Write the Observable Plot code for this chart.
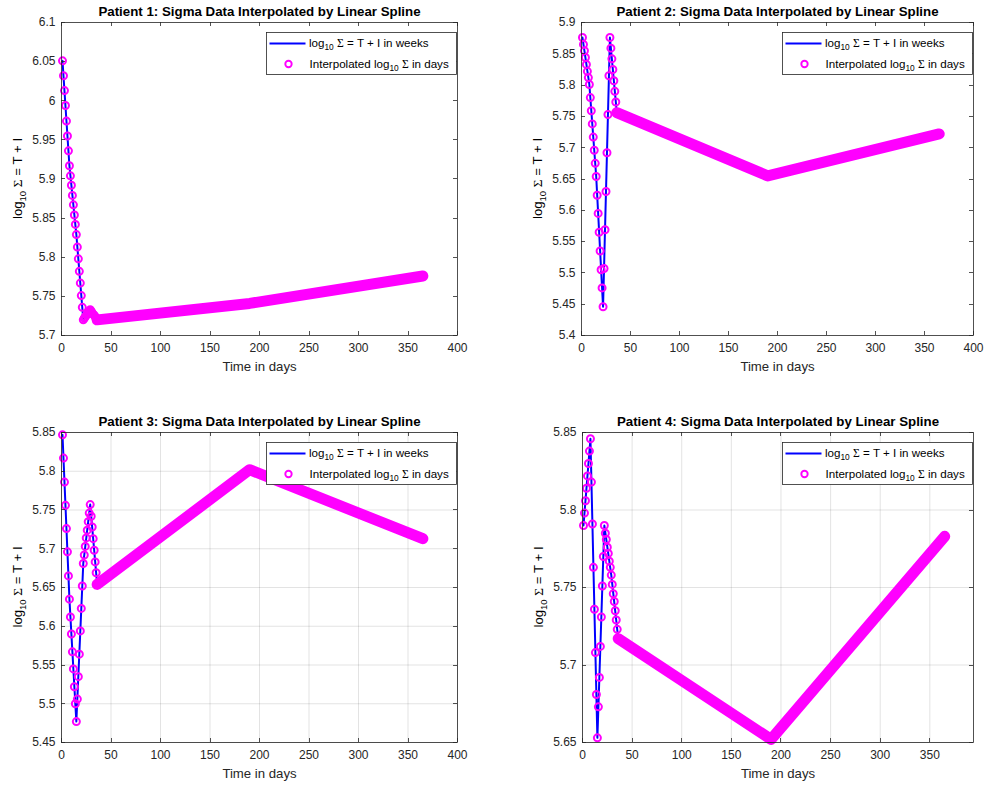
<!DOCTYPE html>
<html><head><meta charset="utf-8">
<script src="https://cdn.jsdelivr.net/npm/d3@7"></script>
<script src="https://cdn.jsdelivr.net/npm/@observablehq/plot@0.6"></script>
<style>
body{margin:0;background:#fff;}
#wrap{position:relative;width:990px;height:787px;background:#fff;overflow:hidden}
#wrap svg{position:absolute;}
</style></head><body><div id="wrap"></div>
<script>
// Knot days (weekly measurements: weeks 0-5, 27, 52)
const weekDays = [1, 8, 15, 22, 29, 36, 190, 365];
const sigmaWeeks1 = [6.051, 5.917, 5.829, 5.720, 5.733, 5.720, 5.741, 5.776];
const sigmaWeeks2 = [5.876, 5.801, 5.654, 5.446, 5.876, 5.756, 5.655, 5.722];
const sigmaWeeks3 = [5.847, 5.635, 5.477, 5.681, 5.757, 5.654, 5.802, 5.713];
const sigmaWeeks4 = [5.790, 5.846, 5.653, 5.790, 5.758, 5.717, 5.652, 5.783];

// Daily circles, days 1..36 (beyond, circles merge into a band)
const sigmaDays1 = [6.051,6.032,6.013,5.994,5.974,5.955,5.936,5.917,5.904,5.892,5.879,5.867,5.854,5.842,5.829,5.813,5.798,5.782,5.767,5.751,5.736,5.720,5.722,5.724,5.726,5.727,5.729,5.731,5.733,5.731,5.729,5.727,5.726,5.724,5.722,5.720];
const sigmaDays2 = [5.876,5.865,5.855,5.844,5.833,5.822,5.812,5.801,5.780,5.759,5.738,5.717,5.696,5.675,5.654,5.624,5.595,5.565,5.535,5.505,5.476,5.446,5.507,5.569,5.630,5.692,5.753,5.815,5.876,5.859,5.842,5.825,5.807,5.790,5.773,5.756];
const sigmaDays3 = [5.847,5.817,5.786,5.756,5.726,5.696,5.665,5.635,5.612,5.590,5.567,5.545,5.522,5.500,5.477,5.506,5.535,5.564,5.594,5.623,5.652,5.681,5.692,5.703,5.714,5.724,5.735,5.746,5.757,5.742,5.728,5.713,5.698,5.683,5.669,5.654];
const sigmaDays4 = [5.790,5.798,5.806,5.814,5.822,5.830,5.838,5.846,5.818,5.791,5.763,5.736,5.708,5.681,5.653,5.673,5.692,5.712,5.731,5.751,5.770,5.790,5.785,5.781,5.776,5.772,5.767,5.763,5.758,5.752,5.746,5.741,5.735,5.729,5.723,5.717];

const xTicks = [0, 50, 100, 150, 200, 250, 300, 350, 400];
const xTicks4 = [0, 50, 100, 150, 200, 250, 300, 350];
const yTicks1 = [5.7, 5.75, 5.8, 5.85, 5.9, 5.95, 6, 6.05, 6.1];
const yTicks2 = [5.4, 5.45, 5.5, 5.55, 5.6, 5.65, 5.7, 5.75, 5.8, 5.85, 5.9];
const yTicks3 = [5.45, 5.5, 5.55, 5.6, 5.65, 5.7, 5.75, 5.8, 5.85];
const yTicks4 = [5.65, 5.7, 5.75, 5.8, 5.85];
const titles = [
  "Patient 1: Sigma Data Interpolated by Linear Spline",
  "Patient 2: Sigma Data Interpolated by Linear Spline",
  "Patient 3: Sigma Data Interpolated by Linear Spline",
  "Patient 4: Sigma Data Interpolated by Linear Spline"
];
const xLabel = "Time in days";

const panels = [
  {title: titles[0], weeks: sigmaWeeks1, daily: sigmaDays1, xd: [0, 400], xt: xTicks, yd: [5.7, 6.1], yt: yTicks1, grid: false, ox: 0, oy: 0, f: {l: 61, t: 22, r: 457, b: 335}},
  {title: titles[1], weeks: sigmaWeeks2, daily: sigmaDays2, xd: [0, 400], xt: xTicks, yd: [5.4, 5.9], yt: yTicks2, grid: false, ox: 495, oy: 0, f: {l: 581, t: 22, r: 973, b: 335}},
  {title: titles[2], weeks: sigmaWeeks3, daily: sigmaDays3, xd: [0, 400], xt: xTicks, yd: [5.45, 5.85], yt: yTicks3, grid: true, ox: 0, oy: 394, f: {l: 61, t: 432, r: 457, b: 742}},
  {title: titles[3], weeks: sigmaWeeks4, daily: sigmaDays4, xd: [0, 394], xt: xTicks4, yd: [5.65, 5.85], yt: yTicks4, grid: true, ox: 495, oy: 394, f: {l: 582, t: 432, r: 973, b: 742}}
];

const FONT = "'Liberation Sans', Arial, Helvetica, sans-serif";
const AX = "#262626";
const BLUE = "#0000ff", MAG = "#ff00ff";
const W = 495, H = 393;
const fmt = d => String(+d.toFixed(2));

function sigmaText(sel, x, y, size, rest, rotate) {
  const t = sel.append("text")
    .attr("transform", `translate(${x},${y})` + (rotate ? " rotate(-90)" : ""))
    .attr("font-size", size).attr("fill", "#000").attr("font-family", FONT)
    .attr("text-anchor", rotate ? "middle" : "start");
  if (rest.prefix) t.append("tspan").text(rest.prefix);
  t.append("tspan").text("log");
  t.append("tspan").attr("font-size", size * 0.72).attr("dy", size * 0.3).text("10");
  t.append("tspan").attr("dy", -size * 0.3).text("\u00a0");
  t.append("tspan").attr("font-family", "'Liberation Serif', 'DejaVu Serif', serif").text("Σ");
  t.append("tspan").text(rest.suffix);
  return t;
}

const wrap = document.getElementById("wrap");
for (const p of panels) {
  const kn = weekDays.map((d, i) => ({d, v: p.weeks[i]}));
  const dl = p.daily.map((v, i) => ({d: i + 1, v}));
  const ml = p.f.l - p.ox, mt = p.f.t - p.oy, mr = W - (p.f.r - p.ox), mb = H - (p.f.b - p.oy);
  const plot = Plot.plot({
    width: W, height: H,
    marginLeft: ml, marginTop: mt, marginRight: mr, marginBottom: mb,
    x: {domain: p.xd, label: null},
    y: {domain: p.yd, label: null},
    style: {fontFamily: FONT, fontSize: "12px", color: AX, background: "#fff", overflow: "visible"},
    marks: [
      p.grid ? Plot.gridX(p.xt, {stroke: AX, strokeOpacity: 0.13}) : null,
      p.grid ? Plot.gridY(p.yt, {stroke: AX, strokeOpacity: 0.13}) : null,
      Plot.axisX(p.xt, {tickSize: 0, tickPadding: 8, tickFormat: fmt, label: null, fill: AX}),
      Plot.axisY(p.yt, {tickSize: 0, tickPadding: 6, tickFormat: fmt, label: null, fill: AX}),
      Plot.line(kn, {x: "d", y: "v", stroke: BLUE, strokeWidth: 2}),
      Plot.line(kn.slice(5), {x: "d", y: "v", stroke: MAG, strokeWidth: 11, strokeLinecap: "round", strokeLinejoin: "round"}),
      Plot.dot(dl, {x: "d", y: "v", r: 3.5, stroke: MAG, strokeWidth: 2, fill: "none"}),
      Plot.frame({stroke: AX, strokeWidth: 0.8}),
      Plot.text([p.title], {text: d => d, frameAnchor: "top", lineAnchor: "middle", dy: -11, fontWeight: "bold", fontSize: 13.3, fill: "#000"}),
      Plot.text([xLabel], {text: d => d, frameAnchor: "bottom", lineAnchor: "middle", dy: 31, fontSize: 13.2, fill: "#262626"})
    ]
  });
  plot.style.left = p.ox + "px";
  plot.style.top = p.oy + "px";
  wrap.appendChild(plot);

  const s = d3.select(plot);
  const xs = plot.scale("x"), ys = plot.scale("y");
  const fl = ml, fr = W - mr, ft = mt, fb = H - mb;
  const tl = 4;
  const tg = s.append("g").attr("stroke", AX).attr("stroke-width", 0.8);
  for (const t of p.xt) {
    const x = Math.round(xs.apply(t)) + 0.5;
    tg.append("line").attr("x1", x).attr("x2", x).attr("y1", fb).attr("y2", fb - tl);
    tg.append("line").attr("x1", x).attr("x2", x).attr("y1", ft).attr("y2", ft + tl);
  }
  for (const t of p.yt) {
    const y = Math.round(ys.apply(t)) + 0.5;
    tg.append("line").attr("x1", fl).attr("x2", fl + tl).attr("y1", y).attr("y2", y);
    tg.append("line").attr("x1", fr).attr("x2", fr - tl).attr("y1", y).attr("y2", y);
  }

  // y label
  sigmaText(s, fl - 39, (ft + fb) / 2, 13.2, {suffix: " = T + I"}, true);

  // legend
  const bw = 190, bh = 42;
  const bx = fr - 1 - bw, by = ft + 10;
  const lg = s.append("g");
  lg.append("rect").attr("x", bx + 0.5).attr("y", by + 0.5).attr("width", bw).attr("height", bh)
    .attr("fill", "#fff").attr("stroke", AX).attr("stroke-width", 0.8);
  lg.append("line").attr("x1", bx + 3.5).attr("x2", bx + 39.5).attr("y1", by + 11.5).attr("y2", by + 11.5)
    .attr("stroke", BLUE).attr("stroke-width", 2);
  sigmaText(lg, bx + 43, by + 15, 11.6, {suffix: " = T + I in weeks"}, false);
  lg.append("circle").attr("cx", bx + 22.5).attr("cy", by + 32).attr("r", 3.2)
    .attr("fill", "none").attr("stroke", MAG).attr("stroke-width", 1.9);
  sigmaText(lg, bx + 43.5, by + 35.5, 11.6, {prefix: "Interpolated ", suffix: " in days"}, false);
}
</script></body></html>
